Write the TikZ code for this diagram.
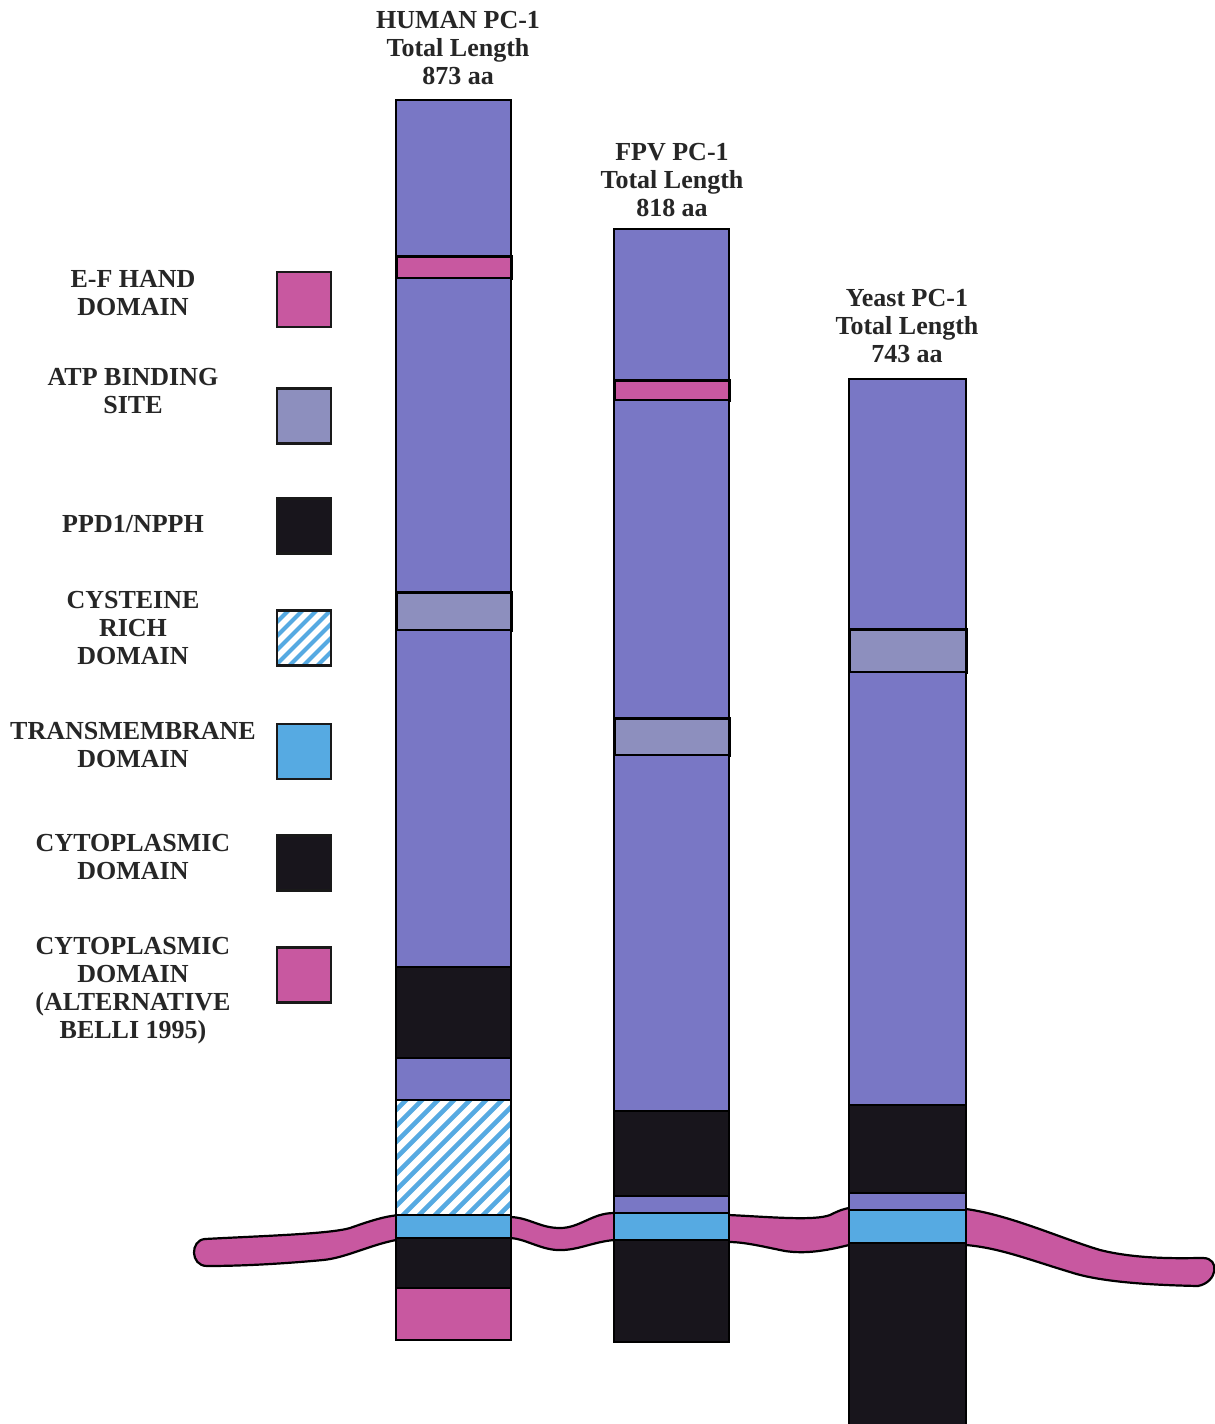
\documentclass[tikz,border=0pt]{standalone}
\usepackage{fontspec}
\setmainfont{Liberation Serif}
\definecolor{purp}{RGB}{121,119,197}
\definecolor{atp}{RGB}{141,143,190}
\definecolor{pinkc}{RGB}{200,88,160}
\definecolor{tmblue}{RGB}{86,170,226}
\definecolor{blk}{RGB}{24,21,28}
\begin{document}
\begin{tikzpicture}[x=0.5pt,y=-0.5pt,
  seg/.style={draw=black,line width=0.9pt},
  lbl/.style={font=\bfseries\fontsize{13}{14}\selectfont, align=center, inner sep=0pt, text=black!85},
  key/.style={draw=black!90, line width=1.2pt, minimum width=27pt, minimum height=27.5pt, inner sep=0pt},
  stripe/.style={tmblue, line width=2.3pt}]
\useasboundingbox[fill=white] (0,0) rectangle (1215,1424);

% membrane
\draw[fill=pinkc, line width=1.1pt]
 (205,1239) .. controls (260,1236) and (330,1234) .. (350,1228)
 .. controls (370,1221) and (385,1216) .. (400,1215) -- (511,1217)
 .. controls (530,1218) and (540,1228) .. (560,1228)
 .. controls (580,1228) and (592,1213) .. (614,1213) -- (729,1215)
 .. controls (770,1217) and (815,1221) .. (830,1215)
 .. controls (838,1211) and (843,1209) .. (849,1208) -- (966,1209)
 .. controls (1010,1215) and (1060,1238) .. (1100,1250)
 .. controls (1140,1260) and (1185,1258) .. (1203,1258)
 .. controls (1220,1258) and (1218,1282) .. (1198,1286)
 .. controls (1150,1285) and (1100,1282) .. (1070,1272)
 .. controls (1030,1260) and (1000,1248) .. (966,1245) -- (849,1245)
 .. controls (825,1251) and (805,1254) .. (785,1251)
 .. controls (765,1247) and (745,1242) .. (729,1242) -- (614,1240)
 .. controls (592,1242) and (577,1251) .. (557,1250)
 .. controls (540,1249) and (525,1239) .. (511,1238) -- (396,1240)
 .. controls (370,1245) and (345,1258) .. (323,1260)
 .. controls (280,1264) and (240,1266) .. (207,1266)
 .. controls (190,1266) and (190,1240) .. (205,1239) -- cycle;

% HUMAN column
\draw[seg,fill=purp] (396,100) rectangle (511,256);
\draw[seg,fill=pinkc,line width=1.5pt] (396,256) rectangle (511,278);
\draw[seg,fill=purp] (396,278) rectangle (511,592);
\draw[seg,fill=atp,line width=1.5pt] (396,592) rectangle (511,630);
\draw[seg,fill=purp] (396,630) rectangle (511,967);
\draw[seg,fill=blk] (396,967) rectangle (511,1058);
\draw[seg,fill=purp] (396,1058) rectangle (511,1100);
\fill[white] (396,1100) rectangle (511,1215);
\begin{scope}
 \clip (396,1100) rectangle (511,1215);
 \foreach \k in {270,286,...,520} \draw[stripe] ({\k},1220) -- ({\k+125},1095);
\end{scope}
\draw[seg] (396,1100) rectangle (511,1215);
\draw[seg,fill=tmblue] (396,1215) rectangle (511,1238);
\draw[seg,fill=blk] (396,1238) rectangle (511,1288);
\draw[seg,fill=pinkc] (396,1288) rectangle (511,1340);

% FPV column
\draw[seg,fill=purp] (614,229) rectangle (729,380);
\draw[seg,fill=pinkc,line width=1.5pt] (614,380) rectangle (729,400);
\draw[seg,fill=purp] (614,400) rectangle (729,718);
\draw[seg,fill=atp,line width=1.5pt] (614,718) rectangle (729,755);
\draw[seg,fill=purp] (614,755) rectangle (729,1111);
\draw[seg,fill=blk] (614,1111) rectangle (729,1196);
\draw[seg,fill=purp] (614,1196) rectangle (729,1213);
\draw[seg,fill=tmblue] (614,1213) rectangle (729,1240);
\draw[seg,fill=blk] (614,1240) rectangle (729,1342);

% Yeast column
\draw[seg,fill=purp] (849,379) rectangle (966,629);
\draw[seg,fill=atp,line width=1.5pt] (849,629) rectangle (966,672);
\draw[seg,fill=purp] (849,672) rectangle (966,1105);
\draw[seg,fill=blk] (849,1105) rectangle (966,1193);
\draw[seg,fill=purp] (849,1193) rectangle (966,1210);
\draw[seg,fill=tmblue] (849,1210) rectangle (966,1243);
\draw[seg,fill=blk] (849,1243) rectangle (966,1430);

% titles
\node[lbl] (tHuman) at (458,48) {HUMAN PC-1\\Total Length\\873 aa};
\node[lbl] (tFPV) at (672,180) {FPV PC-1\\Total Length\\818 aa};
\node[lbl] (tYeast) at (907,326) {Yeast PC-1\\Total Length\\743 aa};

% legend
\node[lbl] (lEF) at (133,293) {E-F HAND\\DOMAIN};
\node[lbl] (lATP) at (133,391) {ATP BINDING\\SITE};
\node[lbl] (lPPD) at (133,524) {PPD1/NPPH};
\node[lbl] (lCYS) at (133,628) {CYSTEINE\\RICH\\DOMAIN};
\node[lbl] (lTM) at (133,745) {TRANSMEMBRANE\\DOMAIN};
\node[lbl] (lCYT) at (133,857) {CYTOPLASMIC\\DOMAIN};
\node[lbl] (lALT) at (133,991) {CYTOPLASMIC\\DOMAIN\\(ALTERNATIVE\\BELLI 1995)};

\node[key,fill=pinkc] (kEF) at (304,299.5) {};
\node[key,fill=atp] (kATP) at (304,416) {};
\node[key,fill=blk] (kPPD) at (304,526) {};
\begin{scope}
 \clip (277,610) rectangle (331,666);
 \foreach \k in {215,229,...,340} \draw[stripe,line width=2pt] ({\k},670) -- ({\k+64},606);
\end{scope}
\node[key] (kCYS) at (304,638) {};
\node[key,fill=tmblue] (kTM) at (304,751.5) {};
\node[key,fill=blk] (kCYT) at (304,863) {};
\node[key,fill=pinkc] (kALT) at (304,975) {};
\end{tikzpicture}
\end{document}
